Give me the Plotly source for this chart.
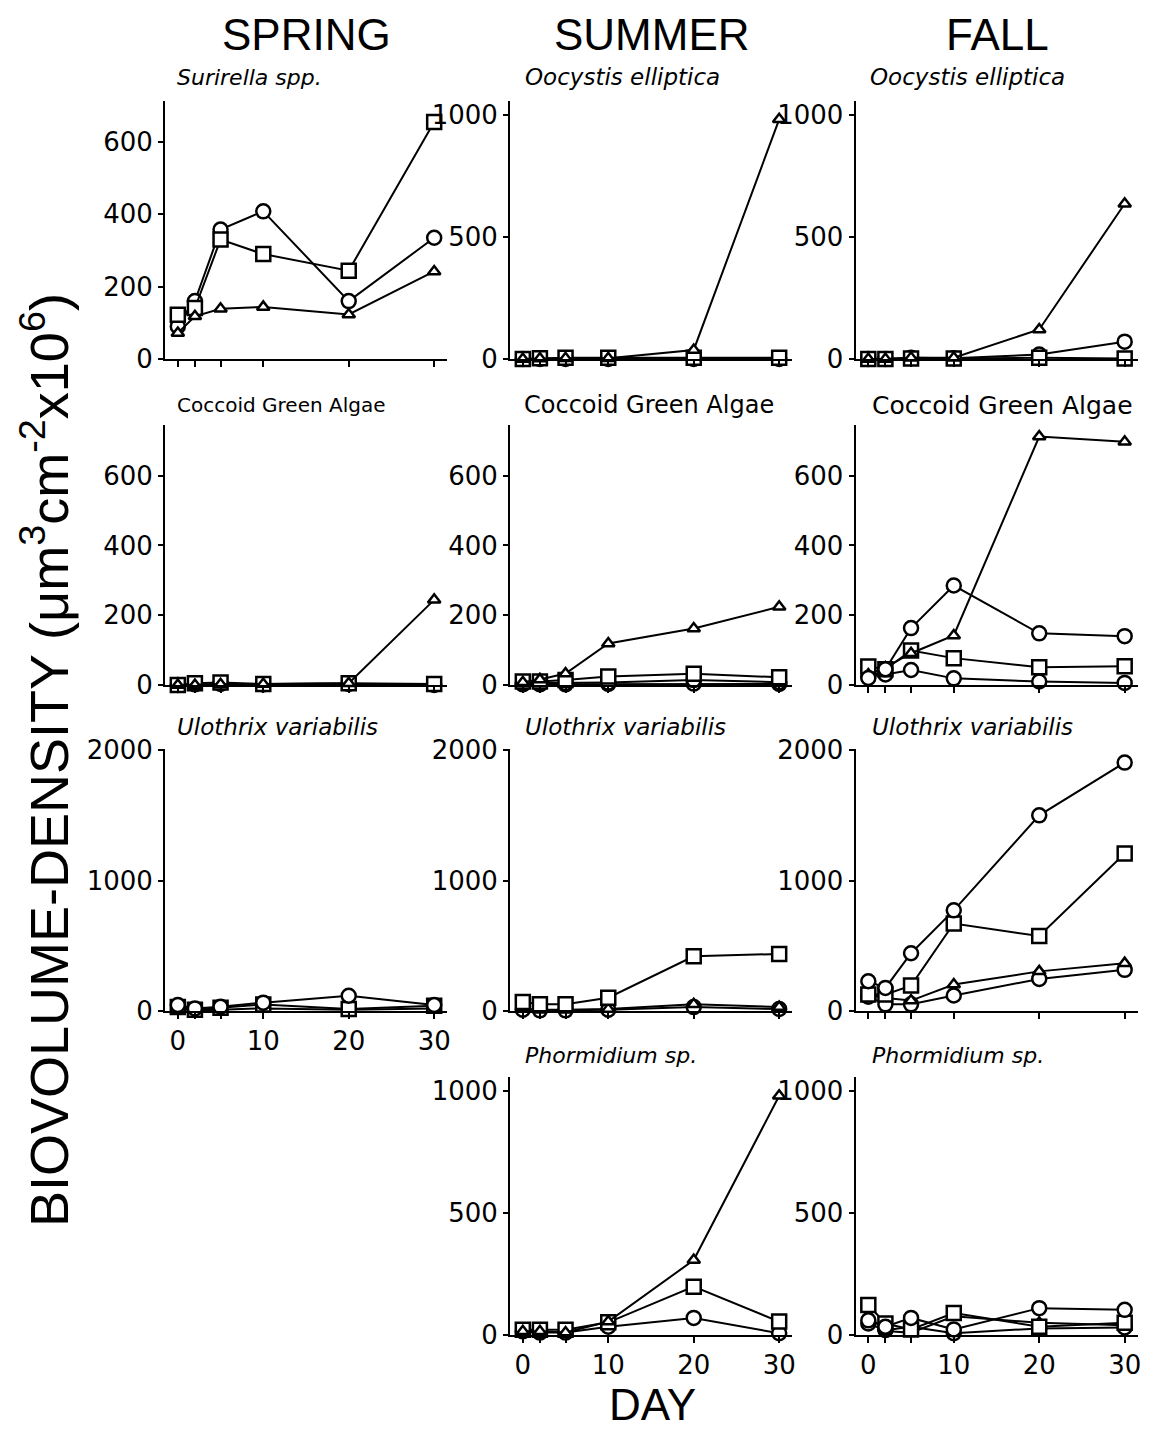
import plotly.graph_objects as go

W, H = 1149, 1430
days = [0, 2, 5, 10, 20, 30]

# ---------------- data ----------------
# SPRING
spr_suri_circle = [90, 160, 358, 408, 160, 335]
spr_suri_square = [122, 141, 330, 290, 244, 655]
spr_suri_tri = [72, 118, 139, 144, 123, 242]

spr_cocc_circle = [0, 2, 3, 2, 3, 0]
spr_cocc_square = [0, 5, 7, 3, 5, 3]
spr_cocc_tri = [0, 0, 2, 3, 5, 244]

spr_ulo_circle = [46, 20, 33, 64, 117, 46]
spr_ulo_square = [30, 10, 25, 50, 15, 40]
spr_ulo_tri = [15, 5, 10, 20, 10, 20]

# SUMMER
sum_oocy_circle = [0, 0, 0, 0, 0, 0]
sum_oocy_square = [0, 3, 5, 5, 5, 5]
sum_oocy_tri = [0, 2, 3, 3, 37, 982]

sum_cocc_circle = [5, 5, 5, 7, 14, 8]
sum_cocc_square = [10, 10, 14, 24, 32, 22]
sum_cocc_tri = [8, 16, 33, 119, 162, 224]
sum_cocc_circle2 = [2, 2, 2, 3, 4, 3]

sum_ulo_circle = [10, 5, 5, 10, 30, 15]
sum_ulo_square = [69, 51, 51, 102, 420, 438]
sum_ulo_tri = [20, 10, 10, 15, 51, 31]

sum_phor_circle = [15, 10, 10, 34, 70, 7]
sum_phor_square = [22, 22, 22, 52, 198, 55]
sum_phor_tri = [15, 15, 10, 55, 307, 980]

# FALL
fal_oocy_circle = [0, 0, 5, 3, 18, 71]
fal_oocy_square = [0, 0, 2, 2, 5, 2]
fal_oocy_tri = [0, 0, 5, 5, 121, 636]

fal_cocc_circle = [20, 45, 163, 285, 148, 140]
fal_cocc_square = [53, 45, 99, 77, 51, 54]
fal_cocc_tri = [30, 50, 91, 142, 712, 697]
fal_cocc_circle2 = [25, 30, 43, 19, 10, 6]

fal_ulo_circle = [228, 177, 443, 772, 1501, 1906]
fal_ulo_square = [127, 127, 195, 671, 575, 1208]
fal_ulo_tri = [125, 100, 80, 203, 304, 367]
fal_ulo_circle2 = [110, 51, 51, 119, 246, 316]

fal_phor_circle = [60, 34, 70, 23, 110, 103]
fal_phor_square = [123, 47, 23, 90, 34, 50]
fal_phor_tri = [80, 16, 9, 77, 50, 40]
fal_phor_circle2 = [47, 20, 34, 7, 27, 31]

seasons = ["SPRING", "SUMMER", "FALL"]
x_ticklabels = ["0", "", "", "10", "20", "30"]

# ---------------- layout geometry ----------------
col_px = [(165, 447), (510, 792), (855.5, 1137.5)]
row_px = [(101, 359), (425, 685), (749, 1011), (1077, 1335)]

panels = [
    (0, 0, "Surirella spp.", True, 22, 175, 713, [0, 200, 400, 600], False,
     [("circle", spr_suri_circle), ("square", spr_suri_square), ("triangle-up", spr_suri_tri)]),
    (1, 0, "Oocystis elliptica", True, 23, 523, 1057, [0, 500, 1000], False,
     [("circle", sum_oocy_circle), ("square", sum_oocy_square), ("triangle-up", sum_oocy_tri)]),
    (2, 0, "Oocystis elliptica", True, 23, 868, 1057, [0, 500, 1000], False,
     [("circle", fal_oocy_circle), ("square", fal_oocy_square), ("triangle-up", fal_oocy_tri)]),
    (0, 1, "Coccoid Green Algae", False, 20, 175, 745, [0, 200, 400, 600], False,
     [("circle", spr_cocc_circle), ("square", spr_cocc_square), ("triangle-up", spr_cocc_tri)]),
    (1, 1, "Coccoid Green Algae", False, 24, 522, 745, [0, 200, 400, 600], False,
     [("circle", sum_cocc_circle2), ("circle", sum_cocc_circle), ("square", sum_cocc_square),
      ("triangle-up", sum_cocc_tri)]),
    (2, 1, "Coccoid Green Algae", False, 25, 870, 745, [0, 200, 400, 600], False,
     [("circle", fal_cocc_circle2), ("square", fal_cocc_square), ("triangle-up", fal_cocc_tri),
      ("circle", fal_cocc_circle)]),
    (0, 2, "Ulothrix variabilis", True, 23, 175, 2010, [0, 1000, 2000], True,
     [("triangle-up", spr_ulo_tri), ("square", spr_ulo_square), ("circle", spr_ulo_circle)]),
    (1, 2, "Ulothrix variabilis", True, 23, 523, 2010, [0, 1000, 2000], False,
     [("circle", sum_ulo_circle), ("triangle-up", sum_ulo_tri), ("square", sum_ulo_square)]),
    (2, 2, "Ulothrix variabilis", True, 23, 870, 2010, [0, 1000, 2000], False,
     [("circle", fal_ulo_circle2), ("triangle-up", fal_ulo_tri), ("square", fal_ulo_square),
      ("circle", fal_ulo_circle)]),
    (1, 3, "Phormidium sp.", True, 22, 523, 1057, [0, 500, 1000], True,
     [("circle", sum_phor_circle), ("square", sum_phor_square), ("triangle-up", sum_phor_tri)]),
    (2, 3, "Phormidium sp.", True, 22, 870, 1057, [0, 500, 1000], True,
     [("circle", fal_phor_circle2), ("triangle-up", fal_phor_tri), ("square", fal_phor_square),
      ("circle", fal_phor_circle)]),
]

fig = go.Figure()
annotations = []
tick_font = dict(family="DejaVu Sans", size=26, color="black")

for i, (c, r, label, italic, lsize, lx, ymax, yticks, xlab, series) in enumerate(panels, start=1):
    xl, xr = col_px[c]
    yt, yb = row_px[r]
    xa = "x" if i == 1 else f"x{i}"
    ya = "y" if i == 1 else f"y{i}"
    for sym, vals in series:
        size = 11 if sym == "triangle-up" else 14
        fig.add_trace(go.Scatter(
            x=days, y=vals, xaxis=xa, yaxis=ya, mode="lines+markers",
            line=dict(color="black", width=2),
            marker=dict(symbol=sym, size=size, color="white",
                        line=dict(color="black", width=2.5)),
            cliponaxis=False, showlegend=False, hoverinfo="skip"))
    xkey = "xaxis" if i == 1 else f"xaxis{i}"
    ykey = "yaxis" if i == 1 else f"yaxis{i}"
    fig.layout[xkey] = dict(
        domain=[xl / W, xr / W], anchor=ya, range=[-1.5, 31.5],
        showline=True, linecolor="black", linewidth=2, showgrid=False, zeroline=False,
        ticks="outside", ticklen=6, tickwidth=1.5, tickcolor="black",
        tickmode="array", tickvals=days, ticktext=x_ticklabels,
        showticklabels=xlab, tickfont=tick_font, fixedrange=True, automargin=False)
    fig.layout[ykey] = dict(
        domain=[1 - yb / H, 1 - yt / H], anchor=xa, range=[0, ymax],
        showline=True, linecolor="black", linewidth=2, showgrid=False, zeroline=False,
        ticks="outside", ticklen=5, tickwidth=1.5, tickcolor="black",
        tickmode="array", tickvals=yticks, tickfont=tick_font, fixedrange=True,
        automargin=False)
    ly = {0: 77, 1: 405, 2: 727, 3: 1055}[r]
    txt = f"<i>{label}</i>" if italic else label
    annotations.append(dict(
        text=txt, x=lx / W, y=1 - ly / H, xref="paper", yref="paper",
        xanchor="left", yanchor="middle", showarrow=False,
        font=dict(family="DejaVu Sans", size=lsize, color="black")))

# Season headings
for name, cx in zip(seasons, [306, 652, 997]):
    annotations.append(dict(
        text=name, x=cx / W, y=1 - 34 / H, xref="paper", yref="paper",
        xanchor="center", yanchor="middle", showarrow=False,
        font=dict(family="Liberation Sans", size=44, color="black")))

# Axis titles
annotations.append(dict(
    text="BIOVOLUME-DENSITY (μm<sup>3</sup>cm<sup>-2</sup>x10<sup>6</sup>)",
    x=45 / W, y=1 - 760 / H, xref="paper", yref="paper", textangle=-90,
    xanchor="center", yanchor="middle", showarrow=False,
    font=dict(family="Liberation Sans", size=54, color="black")))
annotations.append(dict(
    text="DAY", x=652 / W, y=1 - 1404 / H, xref="paper", yref="paper",
    xanchor="center", yanchor="middle", showarrow=False,
    font=dict(family="Liberation Sans", size=44, color="black")))

fig.update_layout(
    width=W, height=H,
    margin=dict(l=0, r=0, t=0, b=0, pad=0, autoexpand=False),
    paper_bgcolor="white", plot_bgcolor="white", showlegend=False,
    annotations=annotations)

fig.write_html("out.html", config={"displayModeBar": False})
